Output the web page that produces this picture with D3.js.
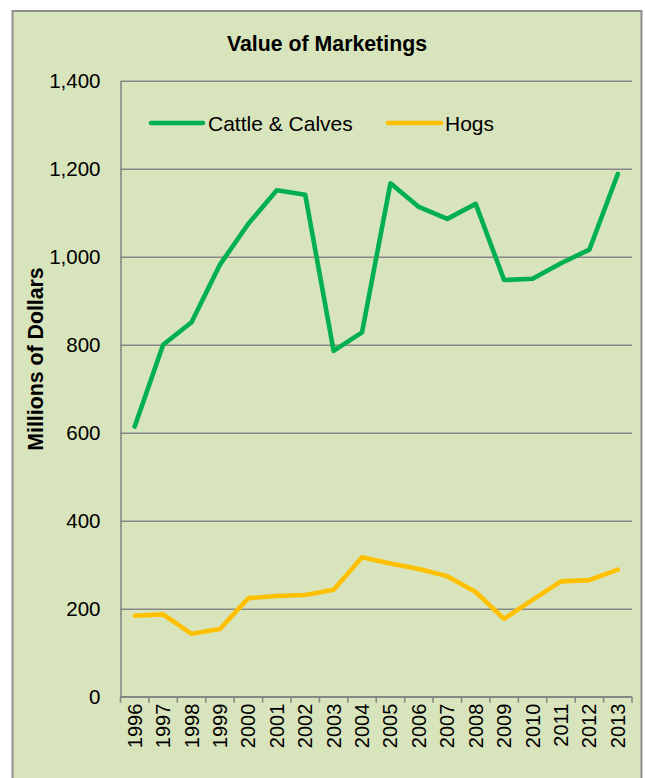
<!DOCTYPE html>
<html>
<head>
<meta charset="utf-8">
<script src="https://cdn.jsdelivr.net/npm/d3@7"></script>
<style>
  html, body { margin: 0; padding: 0; background: #ffffff; }
  svg { display: block; }
  text { font-family: "Liberation Sans", Arial, sans-serif; fill: #000; }
</style>
</head>
<body>
<svg id="chart" width="645" height="778"></svg>
<script>
// Annual value of marketings, millions of dollars
const years = ["1996","1997","1998","1999","2000","2001","2002","2003","2004",
               "2005","2006","2007","2008","2009","2010","2011","2012","2013"];
const cattle = [614, 800, 851, 982, 1075, 1151, 1141, 786, 828,
                1167, 1113, 1086, 1120, 947, 950, 985, 1016, 1188];
const hogs   = [184, 187, 143, 154, 224, 229, 231, 243, 317,
                303, 290, 274, 238, 177, 220, 262, 265, 289];
const yTicks = [0, 200, 400, 600, 800, 1000, 1200, 1400];
const seriesNames = ["Cattle & Calves", "Hogs"];
const seriesColors = ["#00b050", "#ffc000"];

const plot = { left: 120.5, right: 632, top: 80.7, bottom: 696.7 };
const gridColor = "#878787";

const svg = d3.select("#chart");

// chart frame
svg.append("rect")
  .attr("x", 12.5).attr("y", 11)
  .attr("width", 629).attr("height", 790)
  .attr("fill", "#d8e4bc")
  .attr("stroke", "#8e8e8e").attr("stroke-width", 2);

const x = d3.scaleBand().domain(years).range([plot.left, plot.right]).padding(0);
const y = d3.scaleLinear().domain([0, 1400]).range([plot.bottom, plot.top]);

// horizontal gridlines
svg.append("g")
  .attr("transform", `translate(${plot.left},0)`)
  .call(d3.axisRight(y).tickValues(yTicks).tickSize(plot.right - plot.left).tickFormat(""))
  .call(g => g.select(".domain").remove())
  .call(g => g.selectAll("line").attr("stroke", gridColor).attr("stroke-width", 1.6));

// y axis labels
svg.append("g")
  .attr("transform", `translate(${plot.left},0)`)
  .call(d3.axisLeft(y).tickValues(yTicks).tickSize(0).tickPadding(20).tickFormat(d3.format(",")))
  .call(g => g.select(".domain").attr("stroke", gridColor).attr("stroke-width", 1.6))
  .call(g => g.selectAll("text")
    .attr("font-size", 20.5)
    .attr("font-family", "Liberation Sans, Arial, sans-serif")
    .attr("fill", "#000")
    .attr("dy", "0.32em"));

// x axis with ticks between categories
const xAxisG = svg.append("g").attr("transform", `translate(0,${plot.bottom})`);
xAxisG.append("line")
  .attr("x1", plot.left).attr("x2", plot.right)
  .attr("stroke", gridColor).attr("stroke-width", 1.6);
const boundaries = years.map(d => x(d)).concat([x(years[years.length - 1]) + x.bandwidth()]);
xAxisG.selectAll("line.tick")
  .data(boundaries).enter().append("line")
  .attr("class", "tick")
  .attr("x1", d => d).attr("x2", d => d)
  .attr("y1", 0).attr("y2", 6)
  .attr("stroke", gridColor).attr("stroke-width", 1.6);
xAxisG.selectAll("text")
  .data(years).enter().append("text")
  .attr("transform", d => `translate(${x(d) + x.bandwidth() / 2},7) rotate(-90)`)
  .attr("text-anchor", "end")
  .attr("dy", "0.35em")
  .attr("font-size", 20)
  .text(d => d);

// lines
const line = d3.line()
  .x((d, i) => x(years[i]) + x.bandwidth() / 2)
  .y(d => y(d));

[cattle, hogs].forEach((vals, k) => {
  svg.append("path")
    .datum(vals)
    .attr("fill", "none")
    .attr("stroke", seriesColors[k])
    .attr("stroke-width", 4.6)
    .attr("stroke-linejoin", "round")
    .attr("stroke-linecap", "round")
    .attr("d", line);
});

// title
svg.append("text")
  .attr("x", 327).attr("y", 50.5)
  .attr("text-anchor", "middle")
  .attr("font-size", 21.3)
  .attr("font-weight", "bold")
  .text("Value of Marketings");

// y axis title
svg.append("text")
  .attr("transform", "translate(42.5,359) rotate(-90)")
  .attr("text-anchor", "middle")
  .attr("font-size", 21.3)
  .attr("font-weight", "bold")
  .text("Millions of Dollars");

// legend
const legendItems = [
  { x1: 151, x2: 203, tx: 208 },
  { x1: 388, x2: 441, tx: 445 }
];
legendItems.forEach((it, k) => {
  svg.append("line")
    .attr("x1", it.x1).attr("x2", it.x2)
    .attr("y1", 123).attr("y2", 123)
    .attr("stroke", seriesColors[k])
    .attr("stroke-width", 4.6)
    .attr("stroke-linecap", "round");
  svg.append("text")
    .attr("x", it.tx).attr("y", 130.5)
    .attr("font-size", 21)
    .text(seriesNames[k]);
});
</script>
</body>
</html>
